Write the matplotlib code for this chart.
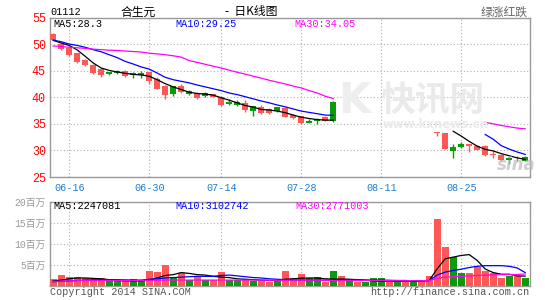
import numpy as np
import matplotlib
matplotlib.use("Agg")
import matplotlib.pyplot as plt

nan = np.nan

# trading days 2014-06-12 .. 2014-09-04 (price data missing 08-04 .. 08-19)
tick_idx = [2, 12, 21, 31, 41, 51]
tick_labels = ["06-16", "06-30", "07-14", "07-28", "08-11", "08-25"]

opens = [51.9, 50.05, 49.25, 48.3, 47.1, 46.1, 45.4, 44.3, 44.5, 44.95,
         44.25, 44.25, 44.7, 43.5, 42.2, 40.7, 42.2, 40.55, 40.75, 40.2,
         40.6, 40.1, 38.8, 38.6, 39.0, 37.5, 38.2, 37.8, 37.4, 37.9,
         36.6, 36.4, 35.2, 35.6, 36.3, 35.5] + [nan] * 12 + \
        [33.45, 33.2, 29.9, 30.55, 31.15, 30.85, 30.8, 29.4, 29.2, 28.2, 28.45, 28.1]
closes = [50.8, 49.1, 47.9, 46.7, 46.0, 44.6, 44.1, 44.7, 45.0, 44.0,
          44.6, 44.6, 43.0, 41.6, 40.4, 42.1, 40.9, 41.1, 39.95, 40.8,
          40.1, 38.5, 39.2, 39.1, 37.6, 38.3, 36.95, 37.1, 38.1, 36.25,
          36.1, 35.1, 35.6, 36.0, 35.6, 39.2] + [nan] * 12 + \
         [33.3, 30.3, 30.7, 31.3, 30.75, 30.1, 29.1, 29.1, 28.2, 28.5, 28.35, 28.7]
highs = [52.1, 50.2, 49.3, 48.4, 47.25, 46.2, 45.5, 44.8, 45.1, 45.2,
         44.8, 44.9, 44.8, 43.75, 42.3, 42.2, 42.5, 41.4, 40.9, 41.0,
         40.7, 40.3, 39.6, 39.4, 39.4, 38.4, 38.6, 37.9, 38.2, 38.1,
         36.9, 36.5, 36.0, 36.1, 36.4, 39.3] + [nan] * 12 + \
        [33.45, 33.2, 31.3, 31.5, 31.2, 31.0, 31.0, 29.8, 29.3, 28.9, 28.9, 29.0]
lows = [50.7, 48.8, 47.8, 46.4, 45.9, 44.4, 43.9, 44.1, 44.3, 43.9,
        43.6, 43.6, 42.4, 41.5, 39.6, 40.2, 40.8, 40.4, 39.7, 40.1,
        40.0, 38.3, 38.5, 38.4, 37.2, 36.4, 36.8, 36.8, 37.3, 36.2,
        36.0, 35.0, 35.1, 35.0, 35.5, 35.4] + [nan] * 12 + \
       [32.7, 30.3, 28.65, 30.5, 29.7, 30.0, 29.0, 28.5, 28.1, 27.5, 28.0, 28.0]

ma5 = [50.7, 50.2, 49.75, 48.9, 47.7, 46.45, 45.5, 45.05, 44.75, 44.5,
       44.3, 44.2, 43.95, 43.3, 42.55, 41.95, 41.45, 40.95, 40.7, 40.6,
       40.4, 39.9, 39.45, 38.95, 38.45, 38.15, 37.7, 37.6, 37.4, 37.1,
       36.65, 36.25, 36.0, 35.8, 35.7, 35.7] + [nan] * 14 + \
      [32.7, 31.7, 30.8, 30.2, 29.9, 29.4, 29.0, 28.6, 28.3]
ma5 = ma5[:50] + [33.6] + ma5[50:]
ma10 = [50.75, 50.45, 50.0, 49.75, 49.4, 48.95, 48.55, 48.0, 47.45, 46.75,
        46.25, 45.7, 45.3, 44.55, 43.75, 43.3, 43.0, 42.7, 42.3, 41.95,
        41.6, 41.25, 40.8, 40.5, 40.1, 39.7, 39.3, 38.95, 38.55, 38.2,
        37.8, 37.4, 37.15, 36.9, 36.65, 36.6] + [nan] * 18 + \
       [33.0, 32.1, 30.9, 30.25, 29.7, 29.25]
ma30 = [49.65, 49.55, 49.4, 49.3, 49.2, 49.05, 48.95, 48.85, 48.8, 48.7,
        48.6, 48.5, 48.3, 48.15, 48.0, 47.8, 47.55, 46.9, 46.55, 46.2,
        45.85, 45.5, 45.1, 44.7, 44.35, 43.95, 43.6, 43.2, 42.85, 42.5,
        42.1, 41.75, 41.25, 40.8, 40.2, 39.75] + [nan] * 18 + \
       [35.3, 35.0, 34.7, 34.45, 34.2, 34.05]

# volume in millions of shares
volume = [1.6, 2.55, 2.07, 2.07, 1.75, 1.5, 1.9, 1.3, 1.1, 1.2,
          1.6, 1.4, 3.5, 3.3, 5.0, 2.07, 3.1, 1.27, 2.07, 1.27,
          1.34, 3.3, 1.4, 1.4, 1.5, 1.1, 1.1, 0.93, 1.1, 3.4,
          1.8, 2.8, 1.75, 2.07, 0.93, 3.5, 2.3, 1.6, 0.93, 0.93,
          1.75, 1.75, 0.93, 1.27, 0.93, 1.1, 1.1, 2.3, 16.0, 9.2,
          6.8, 3.1, 2.9, 4.35, 3.5, 3.1, 1.9, 2.3, 2.3, 1.9]
vol_dir = list("RRRRRRRGGRGGRRRGRGRGRRGGRGRRGRRRGGRG"
               "RGRGGGRGRGRR"
               "RRGGRRRRRGRG")
vol_ma5 = [1.1, 1.3, 1.6, 1.8, 1.8, 1.7, 1.6, 1.4, 1.2, 1.1,
           1.1, 1.1, 1.3, 1.8, 2.4, 2.6, 3.1, 2.9, 2.6, 2.5,
           2.2, 2.0, 1.9, 1.6, 1.5, 1.4, 1.3, 1.2, 1.25, 1.5,
           1.6, 1.75, 1.8, 1.8, 1.6, 1.55, 1.55, 1.5, 1.4, 1.3,
           1.1, 1.0, 1.0, 1.0, 1.0, 1.0, 1.1, 1.2, 4.0, 6.4,
           6.8, 7.2, 7.4, 6.0, 3.95, 3.1, 2.7, 2.7, 2.3, 2.25]
vol_ma10 = [0.9, 1.0, 1.1, 1.2, 1.3, 1.35, 1.4, 1.4, 1.4, 1.35,
            1.3, 1.3, 1.5, 1.6, 1.8, 1.9, 2.0, 2.1, 2.2, 2.2,
            2.2, 2.4, 2.5, 2.3, 2.1, 1.9, 1.8, 1.6, 1.5, 1.4,
            1.3, 1.3, 1.3, 1.3, 1.3, 1.35, 1.4, 1.4, 1.35, 1.3,
            1.3, 1.3, 1.25, 1.2, 1.2, 1.1, 1.1, 1.15, 2.5, 3.2,
            3.6, 3.9, 4.3, 4.6, 4.75, 4.75, 4.75, 4.6, 4.2, 3.1]
vol_ma30 = [1.0, 1.05, 1.1, 1.15, 1.2, 1.2, 1.2, 1.2, 1.2, 1.2,
            1.2, 1.2, 1.25, 1.25, 1.3, 1.3, 1.3, 1.3, 1.3, 1.3,
            1.3, 1.3, 1.3, 1.3, 1.3, 1.3, 1.3, 1.25, 1.25, 1.25,
            1.25, 1.25, 1.25, 1.25, 1.2, 1.2, 1.2, 1.2, 1.2, 1.2,
            1.2, 1.2, 1.15, 1.15, 1.15, 1.15, 1.15, 1.2, 1.7, 2.0,
            2.1, 2.2, 2.3, 2.4, 2.5, 2.55, 2.6, 2.6, 2.65, 2.75]

RED = "#ff5656"
GREEN = "#0a9a0a"
SPINE = "#999999"
GRID = "#b0b0b0"
MONO = ["Liberation Mono", "Noto Sans CJK SC"]
CJK = ["Noto Sans CJK SC", "DejaVu Sans"]

W, H = 545, 300
fig = plt.figure(figsize=(W / 100, H / 100), dpi=100)
fig.patch.set_facecolor("white")


def box(x0, y0, x1, y1):
    return [x0 / W, 1 - y1 / H, (x1 - x0) / W, (y1 - y0) / H]


ax = fig.add_axes(box(50, 17.5, 530, 177))
axv = fig.add_axes(box(50, 202, 530, 285.5))

x = np.arange(len(volume))
o, c, hi, lo = (np.array(a, dtype=float) for a in (opens, closes, highs, lows))

for a in (ax, axv):
    a.set_xlim(-0.4, 59.6)
    for s in a.spines.values():
        s.set_color(SPINE)
        s.set_linewidth(1.0)
    a.grid(True, color=GRID, linestyle=(0, (1, 2)), linewidth=0.8)
    a.set_axisbelow(True)
    a.set_xticks(tick_idx)
    a.tick_params(length=0)

# candles
for i in x:
    if np.isnan(o[i]):
        continue
    col = GREEN if c[i] >= o[i] else RED
    ax.vlines(i, lo[i], hi[i], color=col, linewidth=1.0, zorder=3)
    bot, top = min(o[i], c[i]), max(o[i], c[i])
    ax.bar(i, max(top - bot, 0.12), bottom=bot, width=0.82, color=col,
           linewidth=0, zorder=4)

ax.plot(x, ma5, color="black", lw=0.9, zorder=5)
ax.plot(x, ma10, color="#0000ff", lw=0.9, zorder=5)
ax.plot(x, ma30, color="#ff00ff", lw=0.9, zorder=5)

ax.set_ylim(25, 55)
ax.set_yticks([25, 30, 35, 40, 45, 50, 55])
ax.set_yticklabels([str(v) for v in [25, 30, 35, 40, 45, 50, 55]],
                   family=MONO, fontsize=8.5, color="#ff0000")
ax.set_xticklabels(tick_labels, family=MONO, fontsize=7.3, color="#1a7fd0")
ax.tick_params(axis="x", pad=4)
ax.tick_params(axis="y", pad=3)

# volume
vcols = [GREEN if d == "G" else RED for d in vol_dir]
axv.bar(x, volume, width=0.85, color=vcols, linewidth=0, zorder=3)
axv.plot(x, vol_ma5, color="black", lw=0.9, zorder=4)
axv.plot(x, vol_ma10, color="#0000ff", lw=0.9, zorder=4)
axv.plot(x, vol_ma30, color="#ff00ff", lw=0.9, zorder=4)
axv.set_ylim(0, 20)
axv.set_yticks([5, 10, 15, 20])
axv.set_yticklabels(["5百万", "10百万", "15百万", "20百万"],
                    family=MONO, fontsize=7, color="#999999")
axv.set_xticklabels([])
axv.tick_params(axis="y", pad=3)

# legends inside panels
def legend_row(a, y, items):
    for px, txt, col in items:
        a.text((px - 50) / 480, y, txt, transform=a.transAxes, family=MONO,
               fontsize=7.3, color=col, va="center", ha="left", zorder=8)

legend_row(ax, 0.96, [(53, "MA5:28.3", "black"), (175, "MA10:29.25", "#0000ff"),
                      (294, "MA30:34.05", "#ff00ff")])
legend_row(axv, 0.95, [(53, "MA5:2247081", "black"), (175, "MA10:3102742", "#0000ff"),
                       (295, "MA30:2771003", "#ff00ff")])

# header
fig.text(50 / W, 1 - 12 / H, "01112", family=MONO, fontsize=7.3, color="black",
         va="center", ha="left")
fig.text(120 / W, 1 - 12 / H, "合生元", family=CJK, fontsize=8.5, color="black",
         va="center", ha="left")
fig.text(225 / W, 1 - 12 / H, "-  日K线图", family=CJK, fontsize=8.5, color="black",
         va="center", ha="left")
fig.text(528 / W, 1 - 12 / H, "绿涨红跌", family=CJK, fontsize=8.5, color="#666666",
         va="center", ha="right")

# footer
fig.text(50 / W, 1 - 292 / H, "Copyright 2014 SINA.COM", family=MONO, fontsize=7.3,
         color="#555555", va="center", ha="left")
fig.text(529 / W, 1 - 292 / H, "http://finance.sina.com.cn", family=MONO, fontsize=7.3,
         color="#555555", va="center", ha="right")

# watermarks
fig.text(338 / W, 1 - 101 / H, "K", family="DejaVu Sans", fontsize=30, fontweight="bold",
         color="#eeeeee", va="center", ha="left", zorder=10)
fig.text(380 / W, 1 - 100 / H, "快讯网", family=CJK, fontsize=25, fontweight="bold",
         color="#eaeaea", va="center", ha="left", zorder=10)
fig.text(383 / W, 1 - 124 / H, "www.kxnews.cn", family="DejaVu Sans", fontsize=8.5,
         fontweight="bold", color="#eaeaea", va="center", ha="left", zorder=10)
fig.text(497 / W, 1 - 165 / H, "sina", family="DejaVu Sans", fontsize=12,
         fontweight="bold", style="italic", color="#bbbbbb", alpha=0.7,
         va="center", ha="left", zorder=10)

fig.savefig("out.png", dpi=100, facecolor="white")
